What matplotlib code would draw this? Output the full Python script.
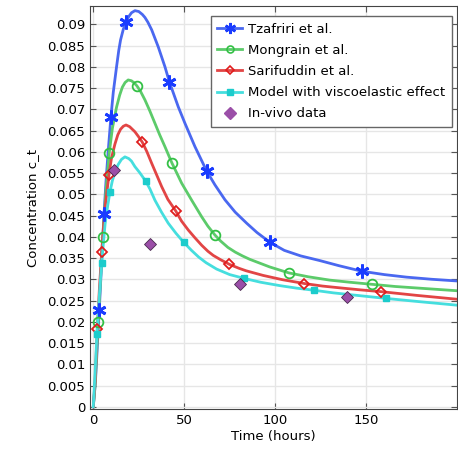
import matplotlib.pyplot as plt
from matplotlib.lines import Line2D
from matplotlib.ticker import FuncFormatter

# curve traces (time in hours, concentration)
tz_t = [0, 1.2, 2.2, 3.3, 4.6, 5.9, 7, 8, 9.7, 11, 12.8, 14, 15, 16.5, 18, 19.5, 21,
        22.9, 25, 27, 28.4, 30, 32.1, 35.7, 39.4, 41.8, 46.7, 50.4, 55.9, 62.3, 66.9,
        72.4, 78, 84.3, 90, 97.1, 105, 114, 124.5, 135, 147.5, 160, 172.2, 186, 200]
tz_c = [0, 0.006, 0.014, 0.0228, 0.034, 0.0453, 0.053, 0.059, 0.0682, 0.074, 0.0800,
        0.0838, 0.0863, 0.0888, 0.0905, 0.0918, 0.0927, 0.0932, 0.0930, 0.0923, 0.0916,
        0.0905, 0.0887, 0.0847, 0.0800, 0.0765, 0.0706, 0.0667, 0.0612, 0.0555, 0.0522,
        0.0487, 0.0458, 0.0432, 0.0410, 0.0387, 0.0368, 0.0355, 0.0344, 0.0332, 0.0319,
        0.0311, 0.0305, 0.0300, 0.0296]

mo_t = [0, 1.0, 2.7, 4, 5.2, 7, 8.8, 10.5, 12.8, 14.5, 16, 17.5, 19.2, 21, 22.5, 24.0,
        26, 28.4, 31, 33.9, 36.5, 39.4, 43.2, 48.6, 54.1, 59.6, 63, 66.9, 70, 74, 78,
        82, 86, 97, 107.5, 118, 130, 141, 153.5, 166, 179.5, 200]
mo_c = [0, 0.005, 0.0200, 0.030, 0.0399, 0.051, 0.0598, 0.0655, 0.0705, 0.0733, 0.0752,
        0.0763, 0.0769, 0.0767, 0.0762, 0.0755, 0.0742, 0.0722, 0.0697, 0.0667, 0.0640,
        0.0612, 0.0574, 0.0526, 0.0486, 0.0447, 0.0425, 0.0404, 0.0390, 0.0375, 0.0364,
        0.0355, 0.0347, 0.0329, 0.0315, 0.0306, 0.0298, 0.0293, 0.0288, 0.0283, 0.0279,
        0.0273]

sa_t = [0, 1.0, 2.2, 3.4, 4.6, 6.5, 8.6, 10, 11.9, 13.5, 15, 16.5, 18, 20, 22.9, 24.8,
        26.9, 29.5, 32.1, 34.8, 37.6, 41, 45.3, 48.5, 52.2, 55.8, 59.6, 63, 66, 70, 74.9,
        80, 84, 93.4, 104, 116, 126, 137.4, 147, 157.9, 178, 200]
sa_c = [0, 0.006, 0.0182, 0.028, 0.0363, 0.047, 0.0545, 0.0585, 0.0618, 0.0640, 0.0653,
        0.0660, 0.0663, 0.0659, 0.0647, 0.0636, 0.0623, 0.0600, 0.0573, 0.0546, 0.0518,
        0.0488, 0.0461, 0.0437, 0.0416, 0.0398, 0.0380, 0.0366, 0.0356, 0.0346, 0.0335,
        0.0326, 0.0320, 0.0309, 0.0299, 0.0290, 0.0284, 0.0279, 0.0275, 0.0271, 0.0262,
        0.0253]

ve_t = [0, 1.0, 2.0, 3.3, 4.6, 6.5, 8, 9.2, 10.5, 12, 13.7, 15.5, 17.4, 19.5, 21, 22.9,
        25.5, 28.8, 31.2, 33.9, 37.5, 41.2, 45.5, 49.7, 54, 58, 62, 67.8, 75, 83, 92,
        102.6, 112, 121.6, 132, 142.9, 160.8, 180, 200]
ve_c = [0, 0.008, 0.0171, 0.026, 0.0339, 0.0430, 0.0475, 0.0506, 0.0532, 0.0553, 0.0570,
        0.0582, 0.0588, 0.0584, 0.0578, 0.0565, 0.0551, 0.0531, 0.0512, 0.0486, 0.0458,
        0.0432, 0.0408, 0.0387, 0.0368, 0.0352, 0.0339, 0.0324, 0.0311, 0.0302, 0.0293,
        0.0285, 0.0279, 0.0274, 0.0268, 0.0263, 0.0255, 0.0247, 0.0239]

# marker positions on each curve
tz_mt = [3.3, 5.9, 9.7, 18.0, 41.8, 62.3, 97.1, 147.5]
tz_mc = [0.0228, 0.0453, 0.0682, 0.0905, 0.0765, 0.0555, 0.0387, 0.0319]
mo_mt = [2.7, 5.2, 8.8, 24.0, 43.2, 66.9, 107.5, 153.5]
mo_mc = [0.0200, 0.0399, 0.0598, 0.0755, 0.0574, 0.0404, 0.0315, 0.0288]
sa_mt = [2.2, 4.6, 8.6, 26.9, 45.3, 74.7, 116, 157.9]
sa_mc = [0.0182, 0.0363, 0.0545, 0.0623, 0.0461, 0.0335, 0.0290, 0.0271]
ve_mt = [2.0, 4.6, 9.2, 28.8, 49.7, 83.0, 121.6, 160.8]
ve_mc = [0.0171, 0.0339, 0.0506, 0.0531, 0.0387, 0.0302, 0.0274, 0.0255]

# in-vivo measurements
iv_t = [11.5, 31.2, 80.6, 139.6]
iv_c = [0.0556, 0.0383, 0.0289, 0.0258]

labels = ["Tzafriri et al.", "Mongrain et al.", "Sarifuddin et al.",
          "Model with viscoelastic effect", "In-vivo data"]

BLUE = "#4a68f0"
BLUE_M = "#1a3cff"
GREEN = "#5ccb6a"
GREEN_M = "#33c045"
RED = "#e24545"
RED_M = "#e01d1d"
CYAN = "#45dede"
CYAN_M = "#1ccccc"
PURPLE = "#9b4fa8"

star = (6, 2, 0)

fig = plt.figure(figsize=(4.58, 4.50), dpi=100)
ax = fig.add_axes([0.1965, 0.0904, 0.8015, 0.8963])

ax.plot(tz_t, tz_c, color=BLUE, lw=2)
ax.plot(mo_t, mo_c, color=GREEN, lw=2)
ax.plot(sa_t, sa_c, color=RED, lw=2)
ax.plot(ve_t, ve_c, color=CYAN, lw=2)

ax.plot(tz_mt, tz_mc, ls="none", marker=star, ms=10, mew=2, color=BLUE_M)
ax.plot(mo_mt, mo_mc, ls="none", marker="o", ms=7, mew=1.3, mfc="none", mec=GREEN_M)
ax.plot(sa_mt, sa_mc, ls="none", marker="D", ms=5, mew=1.3, mfc="none", mec=RED_M)
ax.plot(ve_mt, ve_mc, ls="none", marker="s", ms=5, color=CYAN_M)
ax.plot(iv_t, iv_c, ls="none", marker="D", ms=6.5, mfc=PURPLE, mec="#4a2a50", mew=0.6)

ax.set_xlim(-1.8, 200)
ax.set_ylim(-0.0006, 0.0943)
ax.set_xticks([0, 50, 100, 150])
ax.set_yticks([i * 0.005 for i in range(19)])
ax.yaxis.set_major_formatter(FuncFormatter(lambda v, p: "%g" % round(v, 3)))
ax.tick_params(direction="in", top=True, right=True, labelsize=9.5, length=4,
               color="#555555")
ax.grid(True, color="#e6e6e6", lw=1)
ax.set_axisbelow(True)
for s in ax.spines.values():
    s.set_color("#444444")

ax.set_xlabel("Time (hours)", fontsize=9.5, labelpad=2)
ax.set_ylabel("Concentration c_t", fontsize=9.5, labelpad=6)

handles = [
    Line2D([], [], color=BLUE, lw=2, marker=star, ms=8, mew=1.8, mec=BLUE_M),
    Line2D([], [], color=GREEN, lw=2, marker="o", ms=5, mew=1.2, mfc="none", mec=GREEN_M),
    Line2D([], [], color=RED, lw=2, marker="D", ms=4, mew=1.2, mfc="none", mec=RED_M),
    Line2D([], [], color=CYAN, lw=2, marker="s", ms=4.5, mfc=CYAN_M, mec=CYAN_M),
    Line2D([], [], ls="none", marker="D", ms=6, mfc=PURPLE, mec=PURPLE),
]
leg = ax.legend(handles, labels, loc="upper right", bbox_to_anchor=(0.986, 0.975),
                fontsize=9.5, fancybox=False, framealpha=1, edgecolor="#666666",
                handlelength=1.9, handletextpad=0.45, labelspacing=0.62,
                borderpad=0.5, borderaxespad=0)
leg.get_frame().set_linewidth(1)

fig.savefig("out.png", dpi=100)
